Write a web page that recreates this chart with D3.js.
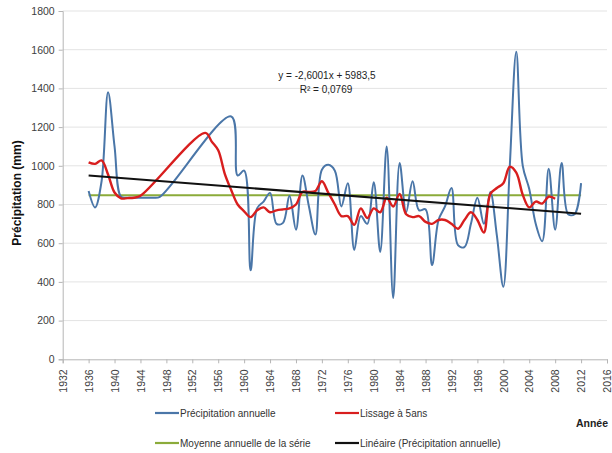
<!DOCTYPE html>
<html>
<head>
<meta charset="utf-8">
<script src="https://cdn.jsdelivr.net/npm/d3@7"></script>
<style>
  html, body { margin: 0; padding: 0; background: #fff; }
  svg { display: block; font-family: "Liberation Sans", Arial, sans-serif; }
</style>
</head>
<body>
<svg id="chart" width="612" height="453"></svg>
<script>
// Annual precipitation series (years with a record)
const rainYears = [1936,1937,1938,1939,1940,1941,1942,1943,1944,1945,1946,1947,
  1958,1959,1960,1961,1962,1963,1964,1965,1966,1967,1968,1969,1970,1971,1972,1973,1974,
  1975,1976,1977,1978,1979,1980,1981,1982,1983,1984,1985,1986,1987,1988,1989,1990,1991,
  1992,1993,1994,1995,1996,1997,1998,1999,2000,2001,2002,2003,2004,2005,2006,2007,2008,
  2009,2010,2011,2012];
const rainValues = [870,785,920,1380,1100,840,835,835,835,835,835,840,
  1255,950,975,460,780,815,860,700,705,845,670,950,790,645,980,1005,975,
  790,910,565,740,700,915,555,1100,317,1015,760,920,770,775,487,720,790,
  885,590,580,700,835,700,865,640,375,1000,1590,1000,880,700,610,985,670,
  1015,750,750,910];

// 5-year smoothing
const smoothYears = [1936,1937,1938,1939,1940,1941,1942,1943,1944,
  1954,1955,1956,1957,1958,1959,1960,1961,1962,1963,1964,1965,1966,1967,1968,1969,1970,
  1971,1972,1973,1974,1975,1976,1977,1978,1979,1980,1981,1982,1983,1984,1985,1986,1987,
  1988,1989,1990,1991,1992,1993,1994,1995,1996,1997,1998,1999,2000,2001,2002,2003,2004,
  2005,2006,2007,2008];
const smoothValues = [1018,1010,1028,955,862,832,833,835,845,
  1170,1125,1080,960,875,800,765,735,770,785,760,770,775,780,800,865,865,
  870,920,860,800,740,740,695,780,730,780,760,835,790,855,750,735,740,
  710,700,720,720,700,675,720,760,720,655,855,885,910,995,965,850,785,
  815,805,840,830];

// Series mean and linear trend y = -2,6001x + 5983,5
const meanYears = [1936, 2012];
const meanValue = [848, 848];
const trendYears = [1936, 2012];
const trendSlope = -2.6001;
const trendIntercept = 5983.5;

const xTicks = d3.range(1932, 2017, 4);
const yTicks = d3.range(0, 1801, 200);

const legendItems = [
  {label: "Précipitation annuelle", color: "#4a76a8"},
  {label: "Lissage à 5ans", color: "#d81e1e"},
  {label: "Moyenne annuelle de la série", color: "#8bab3a"},
  {label: "Linéaire (Précipitation annuelle)", color: "#111"}
];

const svg = d3.select("#chart");
const x = d3.scaleLinear().domain([1932, 2016]).range([62.7, 607]);
const y = d3.scaleLinear().domain([0, 1800]).range([359.3, 11]);

// grid
svg.append("g").selectAll("line").data(yTicks.filter(d => d > 0)).join("line")
  .attr("x1", x(1932)).attr("x2", x(2016))
  .attr("y1", d => y(d)).attr("y2", d => y(d))
  .attr("stroke", "#e3e3e3").attr("stroke-width", 1);

// axes
const yAxis = svg.append("g").attr("transform", `translate(${x(1932)},0)`)
  .call(d3.axisLeft(y).tickValues(yTicks).tickFormat(d3.format("d")).tickSize(4).tickPadding(4));
yAxis.select(".domain").attr("stroke", "#b5b5b5");
yAxis.selectAll(".tick line").attr("stroke", "#b5b5b5");
yAxis.selectAll("text").attr("font-size", 10.5).attr("fill", "#404040")
  .attr("font-family", "Liberation Sans, Arial, sans-serif");

const xAxis = svg.append("g").attr("transform", `translate(0,${y(0)})`)
  .call(d3.axisBottom(x).tickValues(xTicks).tickFormat(d3.format("d")).tickSize(4));
xAxis.select(".domain").attr("stroke", "#b5b5b5");
xAxis.selectAll(".tick line").attr("stroke", "#b5b5b5");
xAxis.selectAll("text")
  .attr("font-size", 10.5).attr("fill", "#404040")
  .attr("font-family", "Liberation Sans, Arial, sans-serif")
  .attr("transform", "rotate(-90)")
  .attr("text-anchor", "end")
  .attr("x", -10).attr("y", 0).attr("dy", "0.35em");

// y title
svg.append("text")
  .attr("transform", `translate(21,${193}) rotate(-90)`)
  .attr("text-anchor", "middle")
  .attr("font-size", 12).attr("font-weight", "bold").attr("fill", "#111")
  .text("Précipitation (mm)");

// series
const smooth = d3.curveCatmullRom.alpha(0.5);
const rain = rainYears.map((yr, i) => [yr, rainValues[i]]);
const smoothed = smoothYears.map((yr, i) => [yr, smoothValues[i]]);
const line = d3.line().x(d => x(d[0])).y(d => y(d[1]));

svg.append("path").datum(meanYears.map((yr, i) => [yr, meanValue[i]]))
  .attr("d", line).attr("fill", "none").attr("stroke", "#8bab3a").attr("stroke-width", 2);

svg.append("path").datum(rain)
  .attr("d", line.curve(smooth)).attr("fill", "none")
  .attr("stroke", "#4a76a8").attr("stroke-width", 2);

svg.append("path").datum(smoothed)
  .attr("d", line.curve(smooth)).attr("fill", "none")
  .attr("stroke", "#d81e1e").attr("stroke-width", 2.4);

svg.append("path").datum(trendYears.map(yr => [yr, trendSlope * yr + trendIntercept]))
  .attr("d", line.curve(d3.curveLinear)).attr("fill", "none")
  .attr("stroke", "#111").attr("stroke-width", 2);

// trend equation
const eq = svg.append("g").attr("font-size", 10).attr("fill", "#222").attr("text-anchor", "middle");
eq.append("text").attr("x", 327).attr("y", 79).text("y = -2,6001x + 5983,5");
eq.append("text").attr("x", 326).attr("y", 93).text("R² = 0,0769");

// legend
const legendPos = [[155, 413], [335, 413], [155, 443], [335, 443]];
const lg = svg.append("g");
legendItems.forEach((it, i) => {
  const [lx, ly] = legendPos[i];
  lg.append("line").attr("x1", lx).attr("x2", lx + 24).attr("y1", ly).attr("y2", ly)
    .attr("stroke", it.color).attr("stroke-width", 2.2);
  lg.append("text").attr("x", lx + 25).attr("y", ly).attr("dy", "0.35em")
    .attr("font-size", 10).attr("fill", "#333")
    .text(it.label);
});

svg.append("text").attr("x", 608).attr("y", 423).attr("dy", "0.35em")
  .attr("text-anchor", "end").attr("font-size", 10.5).attr("font-weight", "bold")
  .attr("fill", "#222").text("Année");
</script>
</body>
</html>
